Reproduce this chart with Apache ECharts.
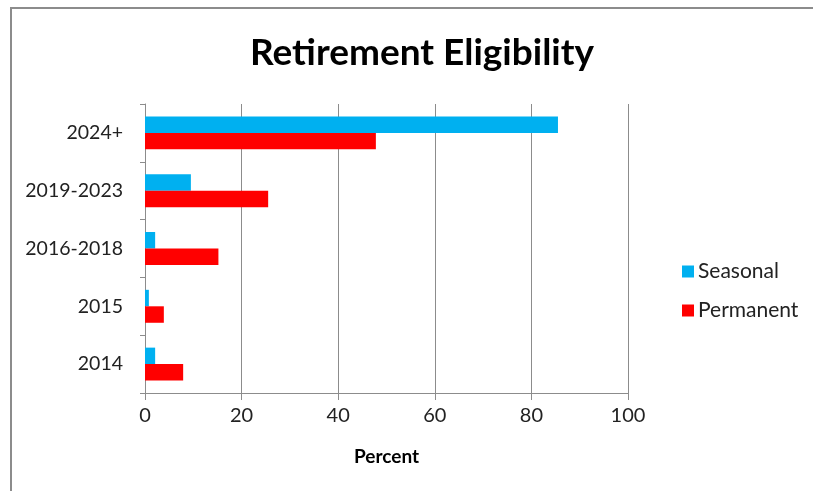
<!DOCTYPE html>
<html>
<head>
<meta charset="utf-8">
<script src="https://cdn.jsdelivr.net/npm/echarts@6/dist/echarts.min.js"></script>
<style>
  html, body { margin: 0; padding: 0; background: #fff; }
  #chart { width: 813px; height: 491px; }
</style>
</head>
<body>
<div id="chart"></div>
<script>
const categories = ['2014', '2015', '2016-2018', '2019-2023', '2024+'];
const seasonal = [2.1, 0.8, 2.1, 9.5, 85.5];
const permanent = [7.9, 3.9, 15.2, 25.5, 47.8];
const xTicks = { min: 0, max: 100, interval: 20 };

const FONT = 'Lato, "Open Sans", sans-serif';
const chart = echarts.init(document.getElementById('chart'), null, { renderer: 'canvas' });
chart.setOption({
  backgroundColor: '#ffffff',
  animation: false,
  title: {
    text: 'Retirement Eligibility',
    left: 417,
    textAlign: 'center',
    top: 30,
    textStyle: { fontFamily: FONT, fontWeight: 'bold', fontSize: 37, color: '#000' }
  },
  graphic: [{
    type: 'rect',
    shape: { x: 11, y: 8, width: 900, height: 600 },
    style: { fill: 'none', stroke: '#8c8c8c', lineWidth: 2 },
    silent: true
  }],
  legend: {
    data: ['Seasonal', 'Permanent'],
    orient: 'vertical',
    left: 677,
    top: 256,
    itemWidth: 12,
    itemHeight: 12,
    itemGap: 18,
    icon: 'rect',
    textStyle: { fontFamily: FONT, fontSize: 21, color: '#222', padding: [0, 0, 0, -1] }
  },
  grid: { left: 145, right: 185, top: 104, bottom: 98, containLabel: false },
  xAxis: {
    type: 'value',
    min: xTicks.min, max: xTicks.max, interval: xTicks.interval,
    name: 'Percent',
    nameLocation: 'middle',
    nameGap: 54,
    nameTextStyle: { fontFamily: FONT, fontWeight: 'bold', fontSize: 19, color: '#000' },
    axisLine: { show: true, lineStyle: { color: '#8c8c8c', width: 1 } },
    axisTick: { show: true, length: 7, inside: false, lineStyle: { color: '#8c8c8c' } },
    axisLabel: { fontFamily: FONT, fontSize: 20, color: '#222', margin: 13 },
    splitLine: { show: true, lineStyle: { color: '#8c8c8c', width: 1 } }
  },
  yAxis: {
    type: 'category',
    data: categories,
    axisLine: { show: true, lineStyle: { color: '#8c8c8c', width: 1 } },
    axisTick: { show: true, length: 5, lineStyle: { color: '#8c8c8c' } },
    axisLabel: { fontFamily: FONT, fontSize: 19.5, color: '#222', margin: 22 }
  },
  series: [
    {
      name: 'Seasonal', type: 'bar', data: seasonal,
      itemStyle: { color: '#00b0f0' },
      barGap: '0%', barCategoryGap: '43%'
    },
    {
      name: 'Permanent', type: 'bar', data: permanent,
      itemStyle: { color: '#ff0000' },
      barGap: '0%', barCategoryGap: '43%'
    }
  ]
});
</script>
</body>
</html>
